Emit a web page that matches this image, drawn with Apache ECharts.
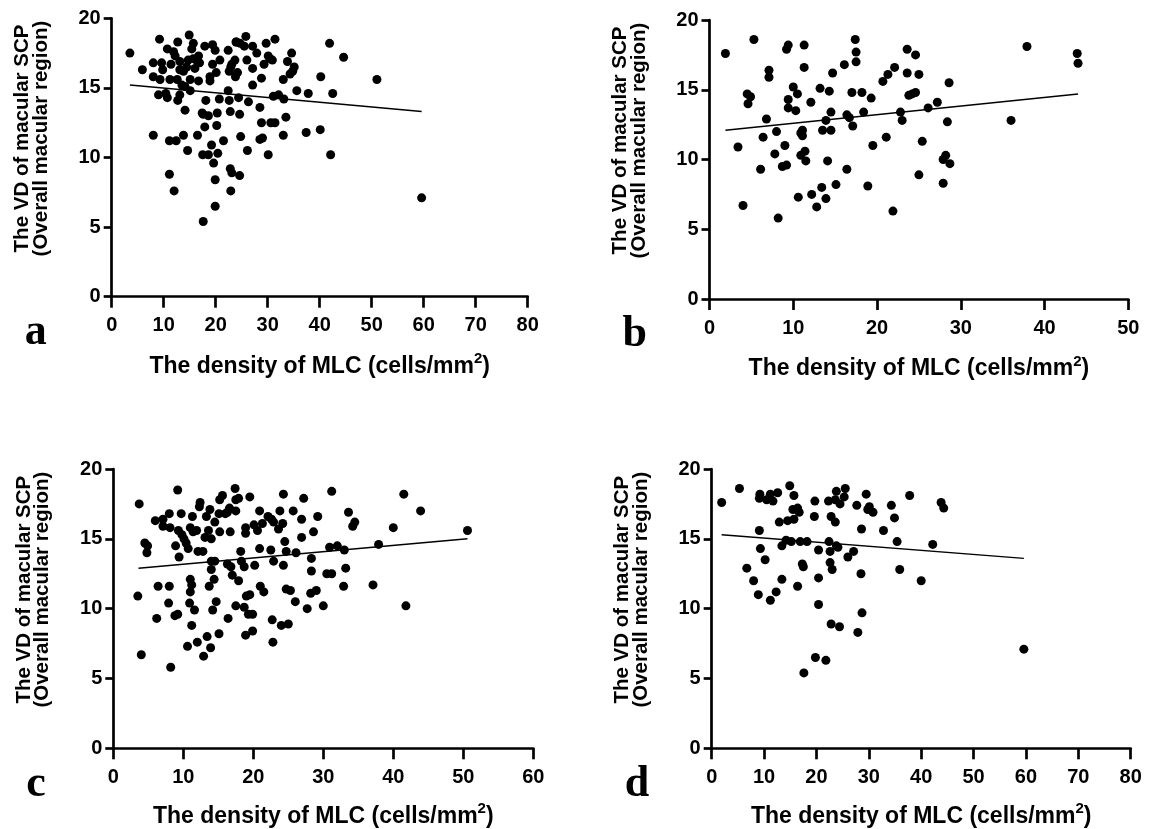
<!DOCTYPE html>
<html>
<head>
<meta charset="utf-8">
<script src="https://cdn.jsdelivr.net/npm/echarts@6/dist/echarts.min.js"></script>
<style>
  html, body { margin: 0; padding: 0; background: #fff; }
  #chart { width: 1157px; height: 829px; }
</style>
</head>
<body>
<div id="chart"></div>
<script>
// panel a: all subjects
const pointsA = [
  [3.5,17.5],[5.9,16.3],[8.0,16.8],[9.2,18.5],[8.0,15.8],[9.0,14.5],[8.0,11.6],[9.6,16.8],[9.8,16.3],[9.3,15.6],
  [10.7,17.8],[11.4,16.7],[11.2,15.6],[10.7,14.3],[10.4,14.6],[12.7,18.3],[11.9,17.6],[12.2,17.3],[13.1,16.9],[13.1,16.3],
  [12.6,15.6],[13.5,15.2],[13.8,16.2],[14.9,18.8],[15.7,18.2],[15.4,17.8],[14.7,17.0],[14.4,16.5],[15.7,17.1],[16.3,17.0],
  [16.7,17.3],[16.9,16.8],[16.0,16.4],[15.1,15.6],[16.7,15.5],[15.1,14.8],[14.1,15.1],[13.1,14.5],[12.7,14.1],[14.1,13.4],
  [11.1,11.2],[12.4,11.2],[13.8,11.6],[14.6,10.5],[11.1,8.8],[12.0,7.6],[16.5,11.6],[17.9,12.2],[18.1,14.1],[17.4,13.2],
  [17.6,13.1],[18.6,13.0],[17.9,18.0],[19.4,18.1],[19.9,17.7],[18.9,15.8],[18.9,15.5],[19.4,16.7],[20.1,16.1],[20.8,17.0],
  [20.3,13.2],[20.2,12.3],[20.7,14.2],[19.2,10.9],[17.5,10.2],[18.6,10.2],[19.6,9.6],[20.4,10.3],[19.9,8.4],[19.9,6.5],
  [17.6,5.4],[21.5,11.2],[22.4,17.7],[22.6,16.2],[22.9,16.5],[23.1,16.7],[23.7,17.0],[24.0,18.3],[22.4,14.8],[22.6,14.1],
  [22.8,13.3],[23.8,15.8],[24.2,16.1],[24.6,13.1],[24.4,14.3],[23.9,18.3],[24.7,18.2],[25.8,18.7],[25.5,18.0],[26.0,17.0],
  [26.3,14.0],[24.8,11.5],[26.1,10.5],[22.8,9.2],[23.1,8.9],[24.6,8.7],[22.9,7.6],[27.1,18.0],[27.9,17.5],[27.1,16.4],
  [27.1,15.2],[28.8,15.7],[28.5,13.6],[28.8,12.5],[28.5,11.3],[29.0,11.4],[29.7,18.2],[30.1,17.3],[30.4,17.1],[30.9,17.0],
  [29.3,16.7],[31.4,18.5],[30.6,12.5],[31.4,12.5],[30.1,10.2],[31.1,14.4],[32.1,14.5],[33.1,14.2],[33.0,15.6],[33.5,12.9],
  [33.0,11.6],[33.8,16.9],[34.6,17.5],[35.1,16.5],[34.8,16.2],[34.3,16.0],[35.6,14.8],[37.8,14.6],[37.4,11.8],[40.1,12.0],
  [40.2,15.8],[41.9,18.2],[42.5,14.6],[42.1,10.2],[44.6,17.2],[51.0,15.6],[59.6,7.1]
];
const fitA = [[3.5,15.2],[59.6,13.3]];

// panel b
const pointsB = [
  [1.9,17.6],[3.4,10.9],[4.0,6.7],[4.5,14.7],[4.9,14.5],[4.6,14.0],[5.3,18.6],[6.1,9.3],[6.4,11.6],[6.8,12.9],
  [7.1,16.4],[7.1,15.9],[7.8,10.4],[8.0,12.0],[8.2,5.8],[8.7,9.5],[9.2,9.6],[9.0,11.0],[9.2,17.9],[9.4,18.2],
  [9.4,14.3],[9.4,13.7],[10.0,15.2],[10.3,13.5],[10.5,14.7],[11.3,18.2],[11.3,16.6],[11.1,12.1],[11.1,11.7],[10.9,11.9],
  [10.9,10.3],[11.4,10.6],[11.5,9.9],[10.6,7.3],[12.1,14.1],[12.2,7.5],[12.8,6.6],[13.2,15.1],[13.4,8.0],[13.5,12.1],
  [13.9,7.2],[13.9,12.8],[14.1,9.9],[14.3,14.9],[14.5,13.4],[14.5,12.1],[14.7,16.2],[15.1,8.2],[16.1,16.8],[16.4,13.2],
  [16.4,9.3],[16.7,13.0],[17.0,14.8],[17.1,12.4],[17.4,18.6],[17.5,17.7],[17.5,17.0],[18.2,14.8],[18.4,13.4],[18.9,8.1],
  [19.3,14.4],[19.5,11.0],[20.7,15.6],[21.3,16.1],[21.1,11.6],[22.1,16.6],[21.9,6.3],[22.8,13.4],[23.0,12.8],[23.6,17.9],
  [23.6,16.2],[23.8,14.6],[24.2,14.7],[24.6,17.5],[24.6,14.8],[25.0,16.1],[25.0,8.9],[25.4,11.3],[26.1,13.7],[27.2,14.1],
  [27.9,10.0],[28.2,10.3],[27.9,8.3],[28.4,12.7],[28.6,15.5],[28.7,9.7],[36.0,12.8],[37.9,18.1],[43.9,17.6],[44.0,16.9]
];
const fitB = [[1.9,12.1],[44.0,14.7]];

// panel c
const pointsC = [
  [3.7,17.5],[3.5,10.9],[4.0,6.7],[4.5,14.7],[4.9,14.5],[4.8,14.0],[9.2,18.5],[6.0,16.3],[7.1,16.4],[7.1,15.9],
  [8.0,16.8],[8.1,15.8],[6.4,11.6],[6.2,9.3],[8.0,11.6],[7.9,10.4],[8.2,5.8],[8.8,9.5],[9.2,9.6],[9.7,16.8],
  [9.3,15.6],[9.8,15.3],[8.9,14.5],[9.4,13.7],[10.1,15.0],[10.4,14.7],[10.7,14.3],[11.0,12.1],[11.2,11.7],[11.0,11.2],
  [10.9,10.4],[11.6,9.9],[11.2,8.8],[10.6,7.3],[11.3,16.6],[11.0,15.8],[11.4,15.5],[11.9,15.6],[12.3,17.3],[12.4,17.6],
  [12.0,7.6],[12.1,14.1],[12.8,14.1],[12.9,6.6],[13.4,8.0],[13.9,7.2],[13.3,16.6],[13.8,17.1],[13.6,15.6],[13.1,15.1],
  [14.0,15.0],[14.5,16.2],[15.1,16.8],[15.2,17.8],[15.6,18.1],[16.0,16.8],[16.3,16.9],[16.6,17.2],[15.2,15.5],[16.7,15.5],
  [14.0,13.4],[14.5,13.4],[14.0,12.8],[14.4,12.1],[13.7,11.6],[14.7,10.5],[14.2,9.9],[15.1,8.2],[16.4,9.3],[16.3,13.2],
  [16.8,13.0],[17.0,12.4],[17.4,18.6],[17.5,17.8],[17.9,17.9],[17.5,17.0],[17.9,12.0],[17.5,10.2],[18.7,10.1],[18.2,14.1],
  [18.3,13.4],[18.7,13.0],[18.9,15.8],[18.9,15.4],[19.5,18.0],[18.9,8.1],[19.9,8.4],[19.3,9.6],[19.9,9.6],[19.0,10.9],
  [19.5,11.0],[20.1,16.0],[20.6,15.6],[20.9,17.0],[21.3,16.1],[20.2,13.1],[20.9,14.3],[21.0,11.6],[21.5,11.2],[22.1,16.6],
  [22.6,16.4],[22.9,16.2],[22.5,14.2],[22.9,13.4],[22.8,7.6],[22.7,9.2],[24.0,8.8],[25.0,8.9],[23.8,17.0],[24.3,18.2],
  [24.2,16.1],[23.6,15.7],[24.5,14.8],[24.7,14.1],[24.3,13.1],[24.7,11.4],[25.3,11.3],[25.7,17.0],[26.1,14.0],[26.0,10.5],
  [26.9,16.4],[27.2,17.9],[26.9,15.1],[27.7,10.0],[28.6,15.5],[28.3,13.6],[28.3,12.7],[28.2,11.1],[29.0,11.3],[29.2,16.6],
  [30.0,10.2],[30.5,12.5],[31.2,12.5],[30.9,14.4],[32.0,14.5],[31.2,18.4],[33.0,14.2],[33.2,12.9],[32.9,11.6],[33.6,16.9],
  [34.2,15.9],[34.5,16.2],[37.9,14.6],[37.1,11.7],[40.0,15.8],[41.5,18.2],[41.8,10.2],[43.9,17.0],[50.6,15.6]
];
const fitC = [[3.6,12.9],[50.6,15.0]];

// panel d
const pointsD = [
  [1.9,17.6],[5.3,18.6],[6.7,12.9],[8.0,12.0],[8.9,11.0],[9.1,15.6],[9.3,14.3],[10.2,13.5],[9.2,18.2],[9.1,17.9],
  [10.5,17.8],[11.2,18.2],[11.7,17.7],[12.6,18.3],[11.2,10.6],[12.3,11.2],[13.4,12.1],[12.9,16.2],[13.4,14.5],[14.2,14.9],
  [14.5,16.3],[14.9,18.8],[15.7,18.1],[15.7,16.4],[15.5,17.1],[16.4,17.2],[16.7,16.9],[15.2,14.8],[16.9,14.8],[18.2,14.8],
  [16.4,11.6],[17.3,13.2],[17.5,13.0],[17.6,5.4],[19.7,17.7],[19.6,16.6],[20.4,14.2],[20.4,12.2],[20.4,10.3],[19.8,6.5],
  [21.8,6.3],[22.3,17.7],[22.8,16.6],[23.6,16.2],[23.8,18.4],[23.6,17.8],[24.5,17.5],[25.5,18.6],[25.3,18.0],[22.4,14.8],
  [22.6,14.1],[23.8,14.5],[24.1,14.4],[22.6,13.3],[23.0,12.8],[22.8,8.9],[24.4,8.7],[26.0,13.7],[27.1,14.1],[27.7,17.4],
  [27.9,8.3],[28.6,15.7],[28.5,12.5],[28.7,9.7],[29.5,18.2],[29.8,17.1],[30.1,17.3],[30.8,16.9],[32.8,15.6],[34.3,17.4],
  [34.9,16.5],[35.4,14.8],[35.9,12.8],[37.8,18.1],[40.0,12.0],[42.2,14.6],[43.8,17.6],[44.3,17.2],[59.6,7.1]
];
const fitD = [[1.9,15.3],[59.6,13.6]];

// tick positions
const xTicks80 = [0, 10, 20, 30, 40, 50, 60, 70, 80];
const xTicks50 = [0, 10, 20, 30, 40, 50];
const xTicks60 = [0, 10, 20, 30, 40, 50, 60];
const yTicks = [0, 5, 10, 15, 20];

const panelXTicks = [xTicks80, xTicks50, xTicks60, xTicks80];
const panelLetters = ['a', 'b', 'c', 'd'];
const yTitle1 = 'The VD of macular SCP';
const yTitle2 = '(Overall macular region)';

const FONT = '"Liberation Sans", Arial, Helvetica, sans-serif';

// pixel boxes of the four plot areas
const boxes = [
  { left: 111.7, top: 18.3, width: 416, height: 278.4 },
  { left: 709.5, top: 20, width: 418.8, height: 279 },
  { left: 113.3, top: 469, width: 420, height: 279.3 },
  { left: 711.7, top: 469, width: 419, height: 279.3 }
];
const titleGaps = [55, 55, 53, 53];

const allPoints = [pointsA, pointsB, pointsC, pointsD];
const allFits = [fitA, fitB, fitC, fitD];

const AXIS_W = 2.7;
const tickLabel = { color: '#000', fontSize: 20, fontWeight: 'bold', fontFamily: FONT };

const grids = [], xAxes = [], yAxes = [], series = [], graphics = [];

boxes.forEach(function(b, i) {
  const xt = panelXTicks[i];
  grids.push({ left: b.left, top: b.top, width: b.width, height: b.height });
  xAxes.push({
    gridIndex: i, type: 'value', min: xt[0], max: xt[xt.length - 1], interval: xt[1] - xt[0],
    axisLine: { show: true, onZero: false, lineStyle: { color: '#000', width: AXIS_W } },
    axisTick: { show: true, length: 11, lineStyle: { color: '#000', width: AXIS_W } },
    axisLabel: Object.assign({ show: true, margin: 19 }, tickLabel),
    splitLine: { show: false },
    name: '{m|The density of MLC (cells/mm}{s|2}{m|)}',
    nameLocation: 'middle', nameGap: titleGaps[i],
    nameTextStyle: {
      rich: {
        m: { fontSize: 23, fontWeight: 'bold', fontFamily: FONT, color: '#000', lineHeight: 30 },
        s: { fontSize: 15, fontWeight: 'bold', fontFamily: FONT, color: '#000', verticalAlign: 'top', lineHeight: 15 }
      }
    }
  });
  yAxes.push({
    gridIndex: i, type: 'value', min: yTicks[0], max: yTicks[yTicks.length - 1], interval: yTicks[1] - yTicks[0],
    axisLine: { show: true, onZero: false, lineStyle: { color: '#000', width: AXIS_W } },
    axisTick: { show: true, length: 8, lineStyle: { color: '#000', width: AXIS_W } },
    axisLabel: Object.assign({ show: true, margin: 11 }, tickLabel),
    splitLine: { show: false }
  });
  series.push({
    type: 'scatter', xAxisIndex: i, yAxisIndex: i,
    data: allPoints[i], symbol: 'circle', symbolSize: 9,
    itemStyle: { color: '#000', opacity: 1 }, silent: true
  });
  series.push({
    type: 'line', xAxisIndex: i, yAxisIndex: i,
    data: allFits[i], symbol: 'none', silent: true,
    lineStyle: { color: '#000', width: 1.5 }
  });

  // y axis title, two lines, read bottom-to-top
  const cy = b.top + b.height / 2 - 19;
  const x0 = b.left - 89;
  [yTitle1, yTitle2].forEach(function(t, k) {
    graphics.push({
      type: 'text', x: x0 + k * 18.5, y: cy, rotation: Math.PI / 2,
      style: {
        text: t, font: 'bold 20.5px ' + FONT, fill: '#000',
        align: 'center', verticalAlign: 'middle'
      }
    });
  });
  // panel letter
  graphics.push({
    type: 'text', x: b.left - 87, y: b.top + b.height + 36,
    style: {
      text: panelLetters[i], font: 'bold 44px "Liberation Serif", "Times New Roman", serif',
      fill: '#000', align: 'left', verticalAlign: 'middle'
    }
  });
});

const chart = echarts.init(document.getElementById('chart'), null, { renderer: 'canvas' });
chart.setOption({
  backgroundColor: '#fff',
  animation: false,
  grid: grids,
  xAxis: xAxes,
  yAxis: yAxes,
  series: series,
  graphic: graphics
});
</script>
</body>
</html>
